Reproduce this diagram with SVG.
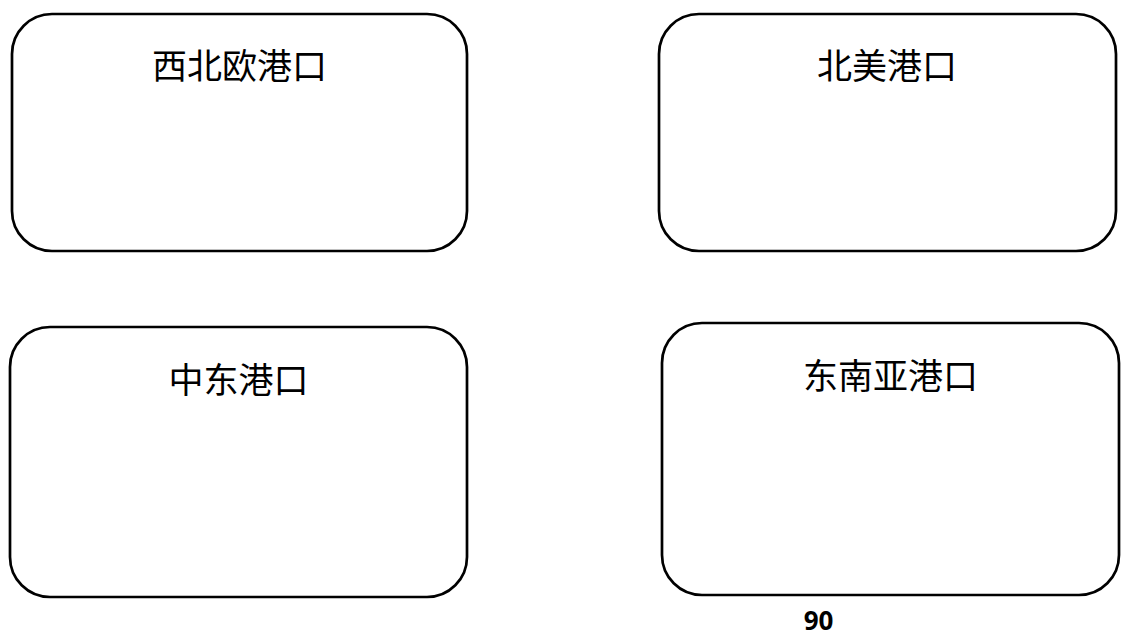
<svg xmlns="http://www.w3.org/2000/svg" width="1131" height="642" viewBox="0 0 1131 642">
  <style>
    .box { fill: #ffffff; stroke: #000000; stroke-width: 2.7; }
    .title { font-family: "Noto Sans CJK SC", "Noto Sans", sans-serif; font-size: 35px; fill: #000000; text-anchor: middle; }
    .page { font-family: "Open Sans", "Noto Sans", sans-serif; font-size: 26px; font-weight: bold; fill: #000000; text-anchor: middle; }
  </style>
  <rect x="0" y="0" width="1131" height="642" fill="#ffffff"/>
  <g id="node-nw-europe">
    <rect class="box" x="12" y="14" width="455" height="237" rx="40" ry="40"/>
    <text class="title" x="239.5" y="79">西北欧港口</text>
  </g>
  <g id="node-north-america">
    <rect class="box" x="659" y="14" width="457" height="237" rx="40" ry="40"/>
    <text class="title" x="887" y="79">北美港口</text>
  </g>
  <g id="node-middle-east">
    <rect class="box" x="10" y="327" width="457" height="270" rx="40" ry="40"/>
    <text class="title" x="238.5" y="393">中东港口</text>
  </g>
  <g id="node-southeast-asia">
    <rect class="box" x="662" y="323" width="457" height="272" rx="40" ry="40"/>
    <text class="title" x="890.5" y="389">东南亚港口</text>
  </g>
  <g id="connectors"></g>
  <text class="page" x="818.5" y="630">90</text>
</svg>
